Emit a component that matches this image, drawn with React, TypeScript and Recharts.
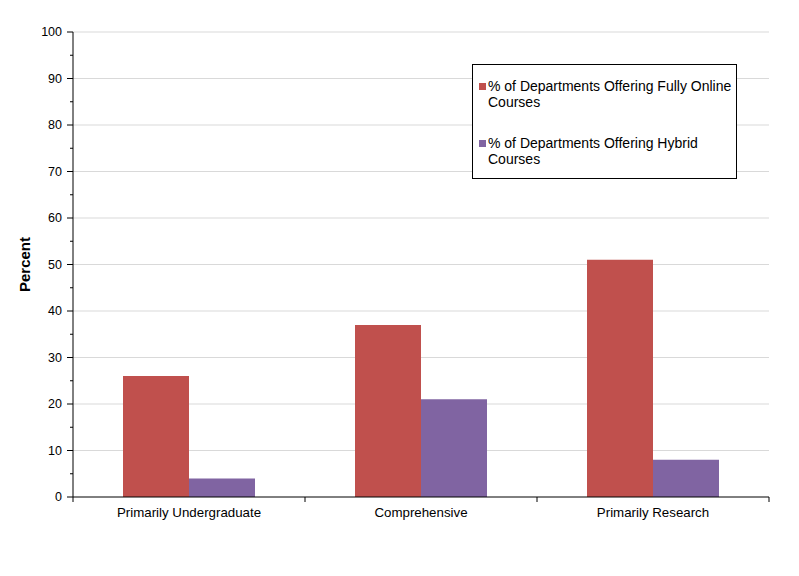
import React from "react";
import {
  BarChart,
  Bar,
  XAxis,
  YAxis,
  CartesianGrid,
} from "recharts";

const categories = ["Primarily Undergraduate", "Comprehensive", "Primarily Research"];
const fullyOnline = [26, 37, 51];
const hybrid = [4, 21, 8];
const yTicks = [0, 5, 10, 15, 20, 25, 30, 35, 40, 45, 50, 55, 60, 65, 70, 75, 80, 85, 90, 95, 100];
const gridValues = [10, 20, 30, 40, 50, 60, 70, 80, 90, 100];

const SERIES = [
  { key: "online", name: "% of Departments Offering Fully Online Courses", color: "#C0504D" },
  { key: "hybrid", name: "% of Departments Offering Hybrid Courses", color: "#8064A2" },
];

const data = categories.map((c, i) => ({
  category: c,
  online: fullyOnline[i],
  hybrid: hybrid[i],
}));

const FONT = "'Liberation Sans', Arial, sans-serif";

function YTick(props: any) {
  const { x, y, payload } = props;
  const major = payload.value % 10 === 0;
  return (
    <g>
      <line x1={x - (major ? 6 : 3)} x2={x} y1={y} y2={y} stroke="#000" />
      {major && (
        <text x={x - 11} y={y} dy={4} textAnchor="end" fontSize={12.5} fill="#000" fontFamily={FONT}>
          {payload.value}
        </text>
      )}
    </g>
  );
}

function XTick(props: any) {
  const { x, y, payload, width, index } = props;
  const band = width / categories.length;
  const left = x - band / 2;
  return (
    <g>
      <line x1={left} x2={left} y1={y} y2={y + 5} stroke="#000" />
      {index === categories.length - 1 && (
        <line x1={left + band} x2={left + band} y1={y} y2={y + 5} stroke="#000" />
      )}
      <text x={x} y={y + 20} textAnchor="middle" fontSize={13.3} fill="#000" fontFamily={FONT}>
        {payload.value}
      </text>
    </g>
  );
}

function LegendBox() {
  return (
    <div
      style={{
        position: "absolute",
        left: 464,
        top: 56,
        border: "1px solid #000",
        background: "#fff",
        width: 263,
        height: 113,
        fontFamily: FONT,
        fontSize: 14,
        lineHeight: "16px",
        color: "#000",
      }}
    >
      {SERIES.map((s, i) => (
        <div
          key={s.key}
          style={{ position: "absolute", left: 6, top: 13 + i * 57, display: "flex" }}
        >
          <div
            style={{
              width: 7,
              height: 7,
              background: s.color,
              marginTop: 5,
              marginRight: 2,
              flex: "none",
            }}
          />
          <div style={{ width: 250 }}>{s.name}</div>
        </div>
      ))}
    </div>
  );
}

export default function App() {
  return (
    <div style={{ width: 791, height: 568, background: "#fff", position: "relative" }}>
      <BarChart
        width={791}
        height={568}
        data={data}
        margin={{ top: 24, right: 30, left: 15, bottom: 39 }}
        barCategoryGap={50}
        barGap={0}
      >
        <CartesianGrid
          vertical={false}
          horizontalValues={gridValues}
          stroke="#d9d9d9"
        />
        <XAxis
          dataKey="category"
          axisLine={{ stroke: "#000" }}
          tickLine={false}
          tickSize={0}
          tickMargin={0}
          tick={<XTick />}
          interval={0}
          height={40}
        />
        <XAxis
          xAxisId="top"
          orientation="top"
          dataKey="category"
          axisLine={{ stroke: "#000" }}
          tick={false}
          tickLine={false}
          height={0}
        />
        <YAxis
          domain={[0, 100]}
          ticks={yTicks}
          interval={0}
          axisLine={{ stroke: "#000" }}
          tickLine={false}
          tickSize={0}
          tickMargin={0}
          tick={<YTick />}
          width={50}
          label={{
            value: "Percent",
            angle: -90,
            position: "insideLeft",
            offset: 2,
            style: { fontWeight: "bold", fontSize: 15, textAnchor: "middle", fill: "#000", fontFamily: FONT },
          }}
        />
        <YAxis
          yAxisId="right"
          orientation="right"
          domain={[0, 100]}
          axisLine={{ stroke: "#000" }}
          tick={false}
          tickLine={false}
          width={0}
        />
        {SERIES.map((s) => (
          <Bar
            key={s.key}
            dataKey={s.key}
            name={s.name}
            fill={s.color}
            isAnimationActive={false}
          />
        ))}
      </BarChart>
      <LegendBox />
    </div>
  );
}
